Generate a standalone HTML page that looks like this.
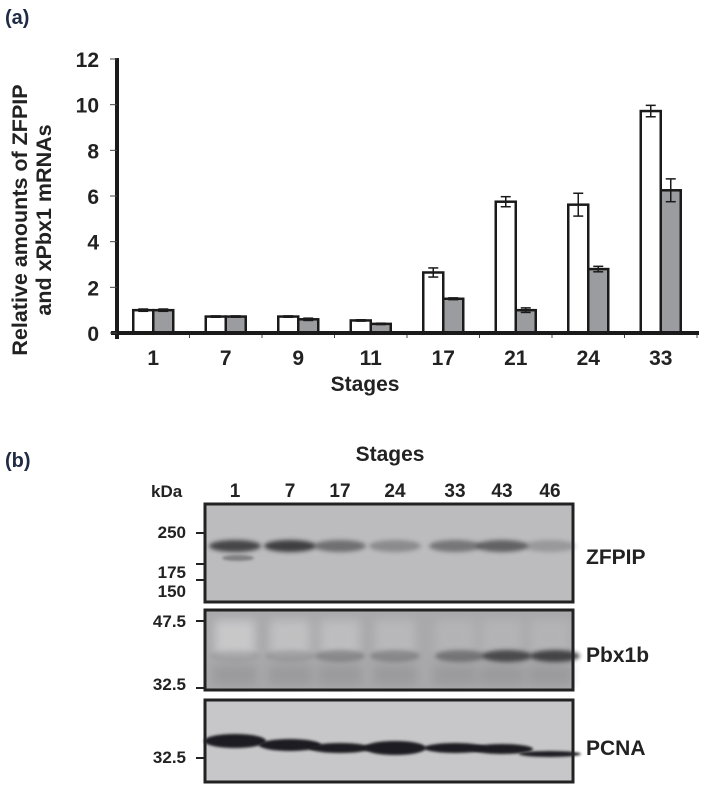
<!DOCTYPE html>
<html><head><meta charset="utf-8"><style>
html,body{margin:0;padding:0;background:#fff;}
svg{display:block;font-family:"Liberation Sans",Arial,sans-serif;font-weight:bold;}
</style></head><body>
<svg id="fig" width="701" height="793" viewBox="0 0 701 793">
<defs>
<filter id="blur2" x="-20%" y="-200%" width="140%" height="500%"><feGaussianBlur stdDeviation="2.2"/></filter>
<filter id="blur1" x="-20%" y="-200%" width="140%" height="500%"><feGaussianBlur stdDeviation="1.2"/></filter>
<filter id="blur6" x="-20%" y="-50%" width="140%" height="200%"><feGaussianBlur stdDeviation="5"/></filter>
</defs>
<text x="5" y="24" font-size="20" fill="#1f2a44">(a)</text>
<g id="chart"></g>
<text x="5" y="467" font-size="20" fill="#1f2a44">(b)</text>
<g id="blot"></g>
</svg>
<script>
const stages = ["1","7","9","11","17","21","24","33"];
const zfpipValues = [1.0,0.72,0.72,0.55,2.65,5.75,5.62,9.72];
const zfpipErrors = [0.05,0.03,0.03,0.03,0.2,0.22,0.5,0.25];
const pbxValues = [1.0,0.72,0.6,0.4,1.5,1.0,2.8,6.25];
const pbxErrors = [0.05,0.03,0.05,0.03,0.04,0.1,0.12,0.5];
const yTicks = [0,2,4,6,8,10,12];

const NS="http://www.w3.org/2000/svg";
function mk(tag,attrs,parent){const e=document.createElementNS(NS,tag);for(const k in attrs)e.setAttribute(k,attrs[k]);parent.appendChild(e);return e;}
const chart=document.getElementById('chart');
const X0=117,X1=697,Y0=333,YTOP=59,YMAX=12;
const band=(X1-X0)/stages.length;
const y=v=>Y0-(v/YMAX)*(Y0-YTOP);
const xc=i=>X0+band*(i+0.5);
const BW=20;

stages.forEach((s,i)=>{
  const series=[[zfpipValues,zfpipErrors,'#ffffff','zfpip'],[pbxValues,pbxErrors,'#9b9ca0','xpbx1']];
  series.forEach((ser,j)=>{
    const v=ser[0][i],e=ser[1][i];
    const bx=xc(i)-BW+j*BW;
    const r=mk('rect',{x:bx,y:y(v),width:BW,height:Y0-y(v),fill:ser[2],stroke:'#1a1a1a','stroke-width':2.5},chart);
    
    
    const cx=bx+BW/2;
    const g=mk('g',{stroke:'#1a1a1a','stroke-width':1.5},chart);
    
    
    mk('line',{x1:cx,x2:cx,y1:y(v+e),y2:y(v-e)},g);
    mk('line',{x1:cx-5,x2:cx+5,y1:y(v+e),y2:y(v+e)},g);
    mk('line',{x1:cx-5,x2:cx+5,y1:y(v-e),y2:y(v-e)},g);
  });
  const t=mk('text',{x:xc(i),y:365,'font-size':21,'text-anchor':'middle',fill:'#222'},chart);
  t.textContent=s;
  
  
  if(i>0){const tk=mk('line',{x1:X0+band*i,x2:X0+band*i,y1:Y0,y2:Y0+5,stroke:'#444','stroke-width':1},chart);
    
    }
});
const tkEnd=mk('line',{x1:X1,x2:X1,y1:Y0,y2:Y0+5,stroke:'#444','stroke-width':1},chart);


const ya=mk('line',{x1:X0,x2:X0,y1:YTOP-1,y2:Y0+6,stroke:'#1a1a1a','stroke-width':4},chart);


const xa=mk('line',{x1:X0-6,x2:X1+2,y1:Y0,y2:Y0,stroke:'#1a1a1a','stroke-width':4},chart);


yTicks.forEach(v=>{
  const l=mk('line',{x1:X0-7,x2:X0,y1:y(v),y2:y(v),stroke:'#444','stroke-width':1},chart);
  
  
  const t=mk('text',{x:99,y:y(v)+8,'font-size':21,'text-anchor':'end',fill:'#222'},chart);
  t.textContent=v;
  
  
});
const xt=mk('text',{x:365,y:391,'font-size':21,'text-anchor':'middle',fill:'#222'},chart);
xt.textContent='Stages';


const yt=mk('text',{transform:'translate(27,220) rotate(-90)','font-size':21.5,'text-anchor':'middle',fill:'#222'},chart);


const ts1=mk('tspan',{x:0,y:0},yt);ts1.textContent='Relative amounts of ZFPIP';
const ts2=mk('tspan',{x:0,y:24},yt);ts2.textContent='and xPbx1 mRNAs';

const blot=document.getElementById('blot');
const lanes=["1","7","17","24","33","43","46"];
const laneX=[235,290,340,395,455,502,550];
const st=mk('text',{x:390,y:461,'font-size':21,'text-anchor':'middle',fill:'#222'},blot);
st.textContent='Stages';


const kd=mk('text',{x:151,y:497,'font-size':17,fill:'#222'},blot);
kd.textContent='kDa';


lanes.forEach((l,i)=>{
  const t=mk('text',{x:laneX[i],y:497,'font-size':19,'text-anchor':'middle',fill:'#222'},blot);
  t.textContent=l;
  
  
});
const panels=[
 {name:'zfpip',y1:504,y2:602,bg:'#bcbcbe',label:'ZFPIP',ly:564},
 {name:'pbx1b',y1:610,y2:690,bg:'#a9a9ab',label:'Pbx1b',ly:662},
 {name:'pcna',y1:700,y2:782,bg:'#c7c7c9',label:'PCNA',ly:755}];
panels.forEach(p=>{
  const g=mk('g',{},blot);
  
  
  mk('rect',{x:205,y:p.y1,width:368,height:p.y2-p.y1,fill:p.bg},g);
  p.g=g;
  const t=mk('text',{x:586,y:p.ly,'font-size':21,fill:'#222'},blot);
  t.textContent=p.label;
  
  
});
const zInt=[0.85,0.9,0.55,0.35,0.5,0.65,0.25];
lanes.forEach((l,i)=>{mk('ellipse',{cx:laneX[i],cy:546,rx:26,ry:6,fill:'#333335',opacity:zInt[i],filter:'url(#blur2)'},panels[0].g);});
mk('ellipse',{cx:238,cy:558,rx:16,ry:3,fill:'#444',opacity:0.5,filter:'url(#blur1)'},panels[0].g);
const pShade=[0.6,0.45,0.4,0.3,0.2,0.2,0.2];
lanes.forEach((l,i)=>{mk('rect',{x:laneX[i]-20,y:620,width:40,height:35,fill:'#ffffff',opacity:pShade[i]*0.6,filter:'url(#blur6)'},panels[1].g);});
lanes.forEach((l,i)=>{mk('rect',{x:laneX[i]-22,y:665,width:44,height:20,fill:'#7a7a7c',opacity:0.3,filter:'url(#blur6)'},panels[1].g);});
const pInt=[0.1,0.15,0.3,0.3,0.45,0.8,0.85];
lanes.forEach((l,i)=>{mk('ellipse',{cx:laneX[i]+(i>=4?5:0),cy:656,rx:25,ry:6,fill:'#333335',opacity:pInt[i],filter:'url(#blur2)'},panels[1].g);});
const pcY=[741,745,748,748,748,749,754];
const pcR=[7,6,5,7,5,5,3];
lanes.forEach((l,i)=>{mk('ellipse',{cx:laneX[i],cy:pcY[i],rx:31,ry:pcR[i],fill:'#1e1e20',filter:'url(#blur1)'},panels[2].g);});
panels.forEach(p=>{mk('rect',{x:205,y:p.y1,width:368,height:p.y2-p.y1,fill:'none',stroke:'#222','stroke-width':3},p.g);});
const markers=[["250",533],["175",564],["150",580],["47.5",621],["32.5",688],["32.5",758]];
const mY=[538,578,597,627,690,763];
markers.forEach((m,i)=>{
  const l=mk('line',{x1:196,x2:205,y1:m[1],y2:m[1],stroke:'#222','stroke-width':2},blot);
  
  
  const t=mk('text',{x:186,y:mY[i],'font-size':17,'text-anchor':'end',fill:'#222'},blot);
  t.textContent=m[0];
  
  
});
</script>
</body></html>
